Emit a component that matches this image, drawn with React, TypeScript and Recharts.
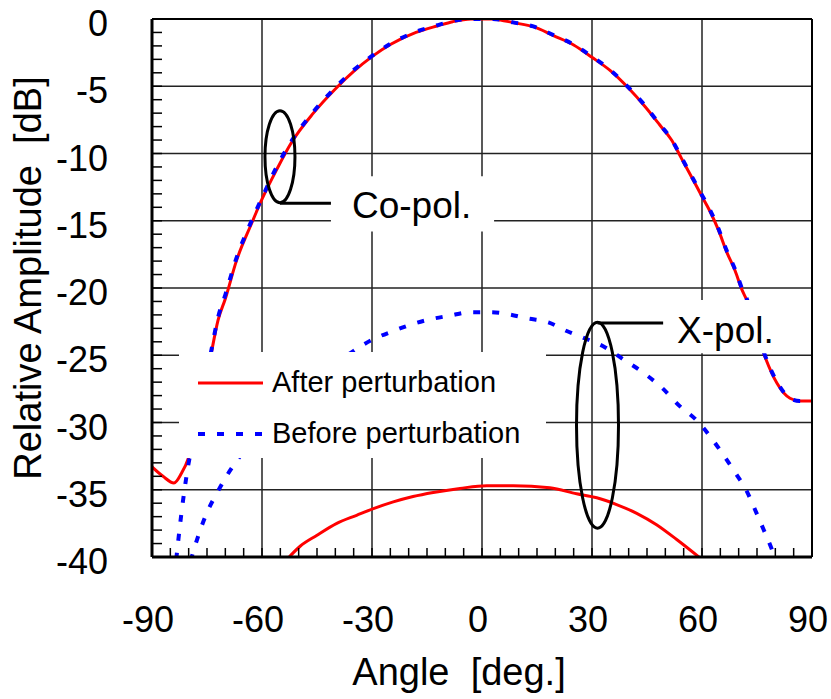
import * as React from "react";
import {
  LineChart,
  Line,
  XAxis,
  YAxis,
  CartesianGrid,
  Legend,
  ReferenceArea,
  ReferenceLine,
  ReferenceDot,
} from "recharts";

const FONT = '"Liberation Sans", Arial, Helvetica, sans-serif';

// axis ticks (labelled ones) — minor ticks every 5 deg / 1 dB
const xMajorTicks = [-90, -60, -30, 0, 30, 60, 90];
const xGridValues = [-60, -30, 0, 30, 60];
const yMajorTicks = [0, -5, -10, -15, -20, -25, -30, -35, -40];
const xMinorTicks = Array.from({ length: 37 }, (_, i) => -90 + i * 5);
const yMinorTicks = Array.from({ length: 41 }, (_, i) => -i);

const legendNames = ["After perturbation", "Before perturbation"];

// Co-pol., after perturbation (red solid)
const coAfterAngle = [
  -90, -87, -84, -82, -80, -78, -76, -74, -72, -70, -67, -63, -60, -56, -52,
  -46, -40, -35, -30, -25, -18, -12, -8, -3, 0, 3, 5, 8.5, 14, 19.5, 25, 30,
  35, 40, 44.5, 48.5, 51.7, 54.4, 57.6, 60, 62, 64.5, 66.7, 69, 71, 72.2, 74,
  75.5, 77.3, 80.5, 84, 86.7, 90,
];
const coAfterDb = [
  -33.3, -34.0, -34.5, -33.8, -32.6, -30.5, -28.0, -25.1, -22.4, -20.8, -18.0,
  -15.3, -13.4, -11.2, -9.2, -7.0, -5.2, -3.9, -2.8, -1.9, -1.0, -0.5, -0.2, 0,
  0, 0, -0.07, -0.27, -0.57, -1.24, -1.93, -2.85, -3.84, -5.15, -6.52, -7.88,
  -9.0, -10.36, -11.97, -13.2, -14.2, -15.7, -17.3, -18.7, -20.2, -20.9, -22.5,
  -23.8, -25.2, -27.1, -28.2, -28.4, -28.4,
];

// Co-pol., before perturbation (blue dotted)
const coBeforeAngle = [
  -83.4, -82, -80.6, -78, -76, -74, -72, -70, -67, -63, -60, -56, -52, -46,
  -40, -35, -30, -25, -18, -12, -8, -3, 0, 3, 5, 8.5, 14, 19.5, 25, 30, 35, 40,
  44.5, 48.5, 51.7, 54.4, 57.6, 60, 62, 64.5, 66.7, 69, 71, 72.2, 74, 75.5,
  77.3, 80.5, 84, 86.7, 90,
];
const coBeforeDb = [
  -40.2, -36.8, -34.0, -30.3, -27.8, -24.9, -22.2, -20.5, -17.8, -15.1, -13.3,
  -11.0, -9.1, -6.9, -5.1, -3.8, -2.75, -1.85, -0.95, -0.45, -0.15, 0, 0, 0,
  -0.05, -0.25, -0.55, -1.2, -1.9, -2.8, -3.8, -5.1, -6.45, -7.85, -8.95,
  -10.3, -11.9, -13.1, -14.1, -15.6, -17.2, -18.6, -20.1, -20.8, -22.4, -23.7,
  -25.1, -27.0, -28.2, -28.4, -28.4,
];

// X-pol., before perturbation (blue dotted)
const xBeforeAngle = [
  -79.5, -77.1, -75.1, -72.6, -69.7, -66.5, -55, -45, -34.6, -29.6, -24.2,
  -19.2, -13.7, -8.7, -3.3, 2.2, 7.2, 12.2, 18.1, 23.1, 28.1, 33.5, 38.5, 44,
  49, 54, 58.4, 62.4, 65.8, 69, 72.2, 74.5, 76.7, 79, 80,
];
const xBeforeDb = [
  -40.3, -38.2, -36.75, -35.4, -34.0, -32.7, -29.3, -26.7, -24.6, -23.8, -23.2,
  -22.7, -22.3, -22.05, -21.8, -21.8, -21.95, -22.25, -22.55, -23.2, -23.75,
  -24.4, -25.3, -26.3, -27.4, -28.8, -29.8, -31.1, -32.4, -33.7, -35.1, -36.5,
  -37.9, -39.4, -40.2,
];

// X-pol., after perturbation (red solid)
const xAfterAngle = [
  -53.6, -49.6, -45.1, -39.6, -34.2, -29.6, -24.2, -18.8, -13.3, -6, 1.3, 8.5,
  18.5, 25.8, 31.3, 36.7, 42.2, 47.6, 53.1, 59.6,
];
const xAfterDb = [
  -40.3, -39.2, -38.4, -37.5, -36.9, -36.4, -35.9, -35.5, -35.2, -34.9, -34.7,
  -34.7, -34.85, -35.3, -35.6, -36.1, -36.75, -37.6, -38.7, -40.1,
];

const zip = (angles: number[], db: number[]) =>
  angles.map((angle, i) => ({ angle, db: db[i] }));

const coAfter = zip(coAfterAngle, coAfterDb);
const coBefore = zip(coBeforeAngle, coBeforeDb);
const xBefore = zip(xBeforeAngle, xBeforeDb);
const xAfter = zip(xAfterAngle, xAfterDb);

const RED = "#ff0000";
const BLUE = "#0000ff";
const DASH = "7 12";

const XTick = (props: any) => {
  const { x, y, payload } = props;
  const v = payload.value;
  return (
    <g>
      <line x1={x} y1={y} x2={x} y2={y - 9} stroke="#000" strokeWidth={1.5} />
      {xMajorTicks.includes(v) && (
        <text
          x={x - 4}
          y={y + 75}
          textAnchor="middle"
          fontSize={36}
          fontFamily={FONT}
          fill="#000"
        >
          {v}
        </text>
      )}
    </g>
  );
};

const YTick = (props: any) => {
  const { x, y, payload } = props;
  const v = payload.value;
  return (
    <g>
      <line x1={x} y1={y} x2={x + 10} y2={y} stroke="#000" strokeWidth={1.5} />
      {yMajorTicks.includes(v) && (
        <text
          x={x - 44}
          y={y + 17}
          textAnchor="end"
          fontSize={36}
          fontFamily={FONT}
          fill="#000"
        >
          {v}
        </text>
      )}
    </g>
  );
};

const LegendBox = ({ payload }: any) => {
  const items = (payload || []).filter((e: any) =>
    legendNames.includes(e.value)
  );
  return (
    <div style={{ width: 367, height: 106, background: "#fff" }}>
      <svg width={367} height={106}>
        {items.map((e: any, i: number) => (
          <g key={e.value}>
            <line
              x1={19}
              x2={84}
              y1={31 + i * 51}
              y2={31 + i * 51}
              stroke={e.color}
              strokeWidth={i === 0 ? 3 : 4}
              strokeDasharray={i === 0 ? undefined : DASH}
            />
            <text
              x={93}
              y={40 + i * 51}
              fontSize={29}
              fontFamily={FONT}
              fill="#000"
            >
              {e.value}
            </text>
          </g>
        ))}
      </svg>
    </div>
  );
};

const ellipseShape = (rx: number, ry: number) => (p: any) =>
  (
    <ellipse
      cx={p.cx}
      cy={p.cy}
      rx={rx}
      ry={ry}
      fill="none"
      stroke="#000"
      strokeWidth={3}
    />
  );

const textShape = (label: string) => (p: any) =>
  (
    <text x={p.cx} y={p.cy} fontSize={37} fontFamily={FONT} fill="#000">
      {label}
    </text>
  );

export default function App() {
  return (
    <div
      style={{
        position: "absolute",
        left: 0,
        top: 0,
        width: 831,
        height: 699,
        background: "#fff",
      }}
    >
      <LineChart
        width={831}
        height={699}
        margin={{ top: 19, right: 19, bottom: 0, left: 0 }}
      >
        <CartesianGrid
          stroke="#222"
          strokeWidth={1.5}
          horizontalValues={yMajorTicks}
          verticalValues={xGridValues}
        />
        <XAxis
          type="number"
          dataKey="angle"
          domain={[-90, 90]}
          ticks={xMinorTicks}
          interval={0}
          allowDataOverflow
          height={142}
          tickSize={0}
          tickMargin={0}
          tickLine={false}
          axisLine={{ stroke: "#000", strokeWidth: 3 }}
          tick={XTick}
          label={{
            content: (p: any) => (
              <text
                x={p.viewBox.x + 307}
                y={p.viewBox.y + 128}
                textAnchor="middle"
                fontSize={38}
                fontFamily={FONT}
                fill="#000"
              >
                Angle{"\u00a0\u00a0"}[deg.]
              </text>
            ),
          }}
        />
        <YAxis
          type="number"
          domain={[-40, 0]}
          ticks={yMinorTicks}
          interval={0}
          allowDataOverflow
          width={152}
          tickSize={0}
          tickMargin={0}
          tickLine={false}
          axisLine={{ stroke: "#000", strokeWidth: 3 }}
          tick={YTick}
          label={{
            content: () => (
              <text
                x={41}
                y={278}
                transform="rotate(-90 41 278)"
                textAnchor="middle"
                fontSize={38}
                fontFamily={FONT}
                fill="#000"
              >
                Relative Amplitude{"\u00a0\u00a0"}[dB]
              </text>
            ),
          }}
        />

        <Line
          data={xAfter}
          dataKey="db"
          type="monotone"
          stroke={RED}
          strokeWidth={3}
          dot={false}
          legendType="none"
          isAnimationActive={false}
        />
        <Line
          data={xBefore}
          dataKey="db"
          type="monotone"
          stroke={BLUE}
          strokeWidth={4}
          strokeDasharray={DASH}
          dot={false}
          legendType="none"
          isAnimationActive={false}
        />
        <Line
          data={coAfter}
          dataKey="db"
          name={legendNames[0]}
          type="monotone"
          stroke={RED}
          strokeWidth={3}
          dot={false}
          isAnimationActive={false}
        />
        <Line
          data={coBefore}
          dataKey="db"
          name={legendNames[1]}
          type="monotone"
          stroke={BLUE}
          strokeWidth={4}
          strokeDasharray={DASH}
          dot={false}
          isAnimationActive={false}
        />

        <ReferenceLine y={0} stroke="#000" strokeWidth={2} zIndex={650} />
        <ReferenceLine x={90} stroke="#000" strokeWidth={2} zIndex={650} />

        {/* white backgrounds behind the annotations */}
        <ReferenceArea
          x1={-41.2}
          x2={3.3}
          y1={-15.8}
          y2={-11.7}
          fill="#fff"
          fillOpacity={1}
          stroke="none"
          ifOverflow="visible"
          zIndex={700}
        />
        <ReferenceArea
          x1={43.1}
          x2={84}
          y1={-24.85}
          y2={-20.9}
          fill="#fff"
          fillOpacity={1}
          stroke="none"
          ifOverflow="visible"
          zIndex={700}
        />

        <ReferenceLine
          segment={[
            { x: -55.1, y: -13.7 },
            { x: -41.2, y: -13.7 },
          ]}
          stroke="#000"
          strokeWidth={3}
          zIndex={800}
        />
        <ReferenceLine
          segment={[
            { x: 31.5, y: -22.6 },
            { x: 49.4, y: -22.6 },
          ]}
          stroke="#000"
          strokeWidth={3}
          zIndex={800}
        />
        <ReferenceDot
          x={-55.1}
          y={-10.24}
          r={1}
          shape={ellipseShape(15, 46)}
          zIndex={850}
        />
        <ReferenceDot
          x={31.5}
          y={-30.2}
          r={1}
          shape={ellipseShape(21, 103)}
          zIndex={850}
        />
        <ReferenceDot
          x={-35.46}
          y={-14.8}
          r={1}
          shape={textShape("Co-pol.")}
          zIndex={900}
        />
        <ReferenceDot
          x={53.2}
          y={-24.09}
          r={1}
          shape={textShape("X-pol.")}
          zIndex={900}
        />

        <Legend
          layout="vertical"
          align="center"
          verticalAlign="middle"
          content={LegendBox}
          wrapperStyle={{
            position: "absolute",
            left: 179,
            top: 352,
            width: 367,
            height: 106,
            background: "#fff",
          }}
        />
      </LineChart>
    </div>
  );
}
